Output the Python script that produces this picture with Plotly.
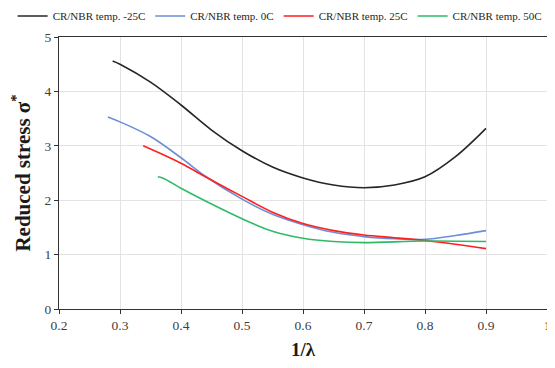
import plotly.graph_objects as go

# Data
x_m25 = [0.288, 0.30, 0.35, 0.40, 0.45, 0.50, 0.55, 0.60, 0.65, 0.70, 0.75, 0.80, 0.85, 0.90]
y_m25 = [4.56, 4.50, 4.17, 3.75, 3.29, 2.91, 2.61, 2.41, 2.28, 2.23, 2.28, 2.43, 2.80, 3.32]

x_0 = [0.280, 0.30, 0.35, 0.40, 0.44, 0.50, 0.55, 0.60, 0.65, 0.70, 0.75, 0.80, 0.85, 0.90]
y_0 = [3.53, 3.44, 3.17, 2.78, 2.44, 2.02, 1.74, 1.55, 1.41, 1.33, 1.29, 1.28, 1.35, 1.44]

x_25 = [0.338, 0.40, 0.44, 0.50, 0.55, 0.60, 0.65, 0.70, 0.75, 0.80, 0.85, 0.90]
y_25 = [3.00, 2.68, 2.43, 2.07, 1.78, 1.57, 1.44, 1.36, 1.31, 1.26, 1.19, 1.11]

x_50 = [0.362, 0.37, 0.40, 0.45, 0.50, 0.55, 0.60, 0.65, 0.70, 0.80, 0.90]
y_50 = [2.43, 2.41, 2.22, 1.93, 1.66, 1.43, 1.30, 1.24, 1.22, 1.25, 1.24]

names = ["CR/NBR temp. -25C", "CR/NBR temp. 0C", "CR/NBR temp. 25C", "CR/NBR temp. 50C"]
colors = ["#262626", "#6B8FD6", "#FF1F1F", "#2EBB68"]
series = [(x_m25, y_m25), (x_0, y_0), (x_25, y_25), (x_50, y_50)]

x_ticks = [0.2, 0.3, 0.4, 0.5, 0.6, 0.7, 0.8, 0.9, 1.0]
x_ticklabels = ["0.2", "0.3", "0.4", "0.5", "0.6", "0.7", "0.8", "0.9", "1"]
y_ticks = [0, 1, 2, 3, 4, 5]

FONT = "Liberation Serif"

fig = go.Figure()
for (xs, ys), name, c in zip(series, names, colors):
    fig.add_trace(go.Scatter(
        x=xs, y=ys, name=name, mode="lines",
        line=dict(color=c, width=1.6, shape="spline", smoothing=1.0),
    ))

# page body has an 8px margin, so the figure is sized/offset to fit the 555x368 window
fig.update_layout(
    width=539, height=352, autosize=False,
    margin=dict(l=50.5, r=0, t=29, b=50.5, autoexpand=False),
    paper_bgcolor="white", plot_bgcolor="white",
    font=dict(family=FONT, color="#404040"),
    showlegend=True,
    legend=dict(
        orientation="h",
        x=-0.095, xanchor="left", y=1.024, yanchor="bottom",
        font=dict(family=FONT, size=11, color="#262626"),
        itemwidth=30, tracegroupgap=0, bgcolor="rgba(0,0,0,0)",
    ),
    xaxis=dict(
        range=[0.2, 1.0], tickvals=x_ticks, ticktext=x_ticklabels,
        showgrid=True, gridcolor="#E3E3E3", gridwidth=1,
        showline=True, linecolor="#333333", linewidth=1.2, mirror=True,
        ticks="outside", ticklen=4, tickcolor="#333333",
        tickfont=dict(family=FONT, size=13.5, color="#404040"),
        ticklabeloverflow="allow",
        title=dict(text="<b>1/λ</b>", font=dict(family=FONT, size=19, color="#1a1a1a"), standoff=13),
        zeroline=False, automargin=False,
    ),
    yaxis=dict(
        range=[0, 5], tickvals=y_ticks,
        showgrid=True, gridcolor="#E3E3E3", gridwidth=1,
        showline=True, linecolor="#333333", linewidth=1.2,
        ticks="outside", ticklen=4, tickcolor="#333333",
        tickfont=dict(family=FONT, size=13.5, color="#404040"),
        title=dict(text="<b>Reduced stress σ<sup>*</sup></b>", font=dict(family=FONT, size=21, color="#1a1a1a"), standoff=12),
        zeroline=False, automargin=False,
    ),
)

fig.write_html("out.html")
